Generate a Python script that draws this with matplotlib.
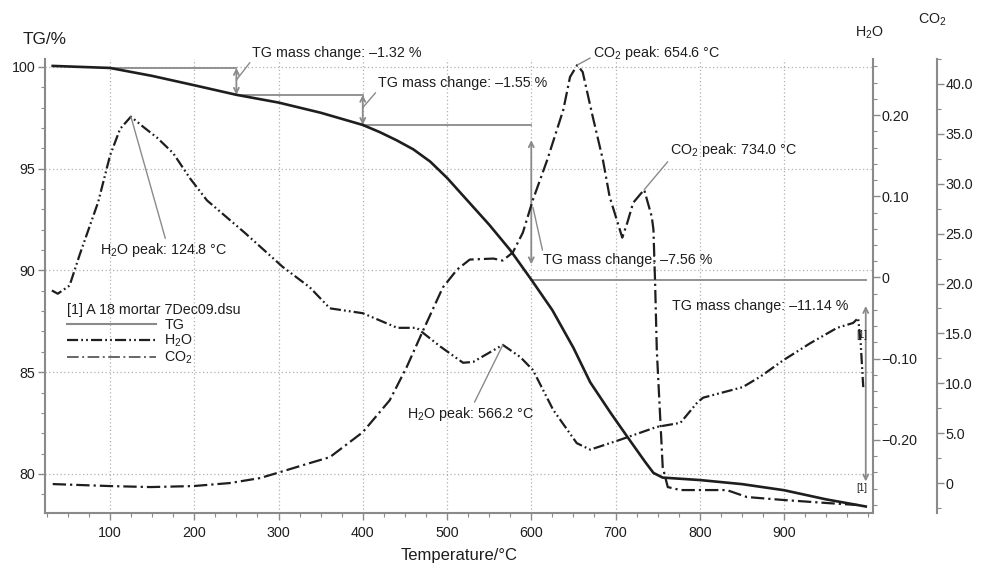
import numpy as np
import matplotlib.pyplot as plt
from matplotlib.lines import Line2D
from matplotlib.ticker import MultipleLocator, FixedLocator, FuncFormatter

plt.rcParams['font.family'] = ['Liberation Sans', 'DejaVu Sans']
plt.rcParams['mathtext.default'] = 'regular'

# TG curve (mass %)
tg_temp = [32, 100, 150, 200, 250, 300, 350, 400, 420, 440, 460, 480, 500, 525, 550,
           575, 600, 625, 650, 670, 695, 717, 735, 745, 756, 800, 850, 900, 950, 997]
tg_mass = [100.05, 99.95, 99.56, 99.1, 98.63, 98.25, 97.75, 97.15, 96.8, 96.4, 95.95,
           95.35, 94.55, 93.4, 92.25, 91.0, 89.55, 88.05, 86.2, 84.5, 82.95, 81.65,
           80.6, 80.05, 79.82, 79.7, 79.5, 79.2, 78.75, 78.4]

# H2O ion current
h2o_temp = [31, 38, 52, 64, 86, 100, 112, 124.8, 140, 156, 175, 195, 215, 260, 305, 337,
            361, 400, 441, 464, 492, 519, 531, 566.2, 587, 602, 626, 654, 670, 705,
            749, 777, 797, 804, 851, 872, 899, 931, 963, 982, 988, 991, 994]
h2o_sig = [-0.016, -0.020, -0.010, 0.028, 0.093, 0.150, 0.183, 0.198, 0.185, 0.172,
           0.153, 0.122, 0.095, 0.055, 0.013, -0.012, -0.038, -0.044, -0.062, -0.062,
           -0.085, -0.105, -0.104, -0.083, -0.098, -0.114, -0.163, -0.204, -0.212,
           -0.200, -0.184, -0.179, -0.154, -0.148, -0.135, -0.122, -0.102, -0.081,
           -0.062, -0.056, -0.050, -0.081, -0.135]

# CO2 ion current
co2_temp = [32, 100, 148, 199, 242, 278, 298, 337, 361, 400, 432, 452, 470, 495, 512,
            527, 555, 566, 578, 590, 602, 619, 638, 646, 654.6, 661, 673, 685, 693, 708,
            714, 721, 734, 743, 745, 747, 749, 753, 756, 762, 777, 832, 856, 900, 951, 987]
co2_sig = [-0.1, -0.3, -0.4, -0.3, 0.0, 0.5, 1.0, 2.0, 2.6, 5.1, 8.3, 11.6, 15.0, 19.6,
           21.4, 22.4, 22.5, 22.3, 23.1, 25.1, 28.4, 32.4, 37.4, 40.7, 41.9, 41.2, 36.7,
           32.4, 28.7, 24.6, 26.1, 28.1, 29.4, 26.7, 25.4, 20.0, 13.3, 6.6, 1.6, -0.4,
           -0.7, -0.7, -1.4, -1.7, -2.0, -2.2]

# TG mass change steps
step_temps = [100, 250, 400, 600, 997]
step_labels = ['TG mass change: \u20131.32 %', 'TG mass change: \u20131.55 %',
               'TG mass change: \u20137.56 %', 'TG mass change: \u201311.14 %']

x_ticks = [100, 200, 300, 400, 500, 600, 700, 800, 900]
tg_ticks = [80, 85, 90, 95, 100]
h2o_ticks = [-0.2, -0.1, 0, 0.1, 0.2]
co2_ticks = [0, 5, 10, 15, 20, 25, 30, 35, 40]

gray = '#8a8a8a'
ink = '#1e1e1e'
fs = 10.3

fig = plt.figure(figsize=(9.86, 5.63), dpi=100)
ax = fig.add_axes([0.0456, 0.0888, 0.8398, 0.8064])
ax2 = ax.twinx()
ax3 = ax.twinx()
ax3.spines['right'].set_position(('axes', 1.0773))

h2o_style = (0, (5, 1.4, 0.8, 1.4, 0.8, 1.4))
co2_style = (0, (6, 1.8, 1, 1.8))

ax.plot(tg_temp, tg_mass, color=ink, lw=1.9, zorder=5)
ax2.plot(h2o_temp, h2o_sig, color=ink, lw=1.6, ls=h2o_style)
ax3.plot(co2_temp, co2_sig, color=ink, lw=1.6, ls=co2_style)

ax.set_xlim(22.8, 1005.6)
ax.set_ylim(78.08, 100.39)
ax2.set_ylim(-0.290, 0.269)
ax3.set_ylim(-3.0, 42.5)

# axes styling
for a in (ax, ax2, ax3):
    for s in a.spines.values():
        s.set_color(gray)
        s.set_linewidth(1.5)
ax.spines['top'].set_visible(False)
ax.spines['right'].set_visible(False)
for a in (ax2, ax3):
    for k in ('top', 'left', 'bottom'):
        a.spines[k].set_visible(False)

ax.xaxis.set_major_locator(FixedLocator(x_ticks))
ax.xaxis.set_minor_locator(MultipleLocator(25))
ax.yaxis.set_major_locator(FixedLocator(tg_ticks))
ax.yaxis.set_minor_locator(MultipleLocator(1))
ax2.yaxis.set_major_locator(FixedLocator(h2o_ticks))
ax2.yaxis.set_minor_locator(MultipleLocator(0.02))
ax3.yaxis.set_major_locator(FixedLocator(co2_ticks))
ax3.yaxis.set_minor_locator(MultipleLocator(2.5))

ax2.yaxis.set_major_formatter(FuncFormatter(lambda v, p: '0' if abs(v) < 1e-9 else f'{v:.2f}'.replace('-', '\u2212')))
ax3.yaxis.set_major_formatter(FuncFormatter(lambda v, p: '0' if abs(v) < 1e-9 else f'{v:.1f}'))

for a in (ax, ax2, ax3):
    a.tick_params(which='major', length=5, width=1, color=gray, labelsize=fs, labelcolor=ink, pad=2)
    a.tick_params(which='minor', length=3, width=0.8, color=gray)
ax2.tick_params(which='major', pad=1)
ax3.tick_params(which='major', pad=1)
ax.tick_params(axis='x', which='major', pad=4)

ax.grid(True, which='major', ls=(0, (1, 2)), color='#b0b0b0', lw=0.9)
ax.set_xlabel('Temperature/\u00b0C', fontsize=12, color=ink, labelpad=6)

fig.text(0.0233, 0.929, 'TG/%', fontsize=12.4, color=ink, ha='left', va='center')
fig.text(0.882, 0.941, 'H$_2$O', fontsize=fs, color=ink, ha='center', va='center')
fig.text(0.946, 0.964, 'CO$_2$', fontsize=fs, color=ink, ha='center', va='center')

# mass change steps
levels = np.interp(step_temps, tg_temp, tg_mass)
shrinks = [(0, 0), (0, 0), (11, 11), (19, 18)]
for i in range(4):
    ax.plot([step_temps[i], step_temps[i + 1]], [levels[i], levels[i]], color=gray, lw=1.3, zorder=3)
    ax.annotate('', xy=(step_temps[i + 1], levels[i + 1]), xytext=(step_temps[i + 1], levels[i]),
                arrowprops=dict(arrowstyle='<->', color=gray, lw=1.3, mutation_scale=9,
                                shrinkA=shrinks[i][0], shrinkB=shrinks[i][1]), zorder=3)

lead = dict(arrowstyle='-', color=gray, lw=1.0, shrinkA=0, shrinkB=0)
ax.annotate(step_labels[0], xy=(250, 99.36), xytext=(268.5, 100.69), fontsize=fs, color=ink,
            ha='left', va='center', arrowprops=dict(lead, relpos=(0, 0)), annotation_clip=False)
ax.annotate(step_labels[1], xy=(400, 98.0), xytext=(418, 99.21), fontsize=fs, color=ink,
            ha='left', va='center', arrowprops=dict(lead, relpos=(0, 0)))
ax.annotate(step_labels[2], xy=(602, 93.1), xytext=(614, 90.52), fontsize=fs, color=ink,
            ha='left', va='center', arrowprops=dict(lead, relpos=(0, 1)))
ax.text(976, 88.26, step_labels[3], fontsize=fs, color=ink, ha='right', va='center')

# peak labels
ax2.annotate('H$_2$O peak: 124.8 \u00b0C', xy=(124.8, 0.198), xytext=(88, 91.0),
             textcoords=ax.transData, fontsize=fs, color=ink, ha='left', va='center',
             arrowprops=dict(lead, relpos=(0.52, 1)))
ax2.annotate('H$_2$O peak: 566.2 \u00b0C', xy=(566.2, -0.083), xytext=(452.5, 82.95),
             textcoords=ax.transData, fontsize=fs, color=ink, ha='left', va='center',
             arrowprops=dict(lead, relpos=(0.52, 1)))
ax3.annotate('CO$_2$ peak: 654.6 \u00b0C', xy=(654.6, 41.9), xytext=(673.3, 100.69),
             textcoords=ax.transData, fontsize=fs, color=ink, ha='left', va='center',
             arrowprops=dict(lead, relpos=(0, 0.3)), annotation_clip=False)
ax3.annotate('CO$_2$ peak: 734.0 \u00b0C', xy=(734, 29.4), xytext=(764.7, 95.92),
             textcoords=ax.transData, fontsize=fs, color=ink, ha='left', va='center',
             arrowprops=dict(lead, relpos=(0, 0)))

ax.text(992.6, 86.83, '[1]', fontsize=7, color=ink, ha='center', va='center', zorder=6)
ax.text(992.6, 79.3, '[1]', fontsize=7, color=ink, ha='center', va='center', zorder=6)

# legend
handles = [Line2D([], [], color=gray, lw=1.5),
           Line2D([], [], color=ink, lw=1.6, ls=h2o_style),
           Line2D([], [], color='#666666', lw=1.4, ls=co2_style)]
leg = ax.legend(handles, ['TG', 'H$_2$O', 'CO$_2$'], title='[1] A 18 mortar 7Dec09.dsu',
                loc='upper left', bbox_to_anchor=(0.0266, 0.463), frameon=False,
                fontsize=fs, title_fontsize=fs, borderpad=0, borderaxespad=0,
                handlelength=6.2, handletextpad=0.6, labelspacing=0.06, alignment='left')
for t in leg.get_texts():
    t.set_color(ink)
leg.get_title().set_color(ink)

fig.savefig('out.png', dpi=100)
